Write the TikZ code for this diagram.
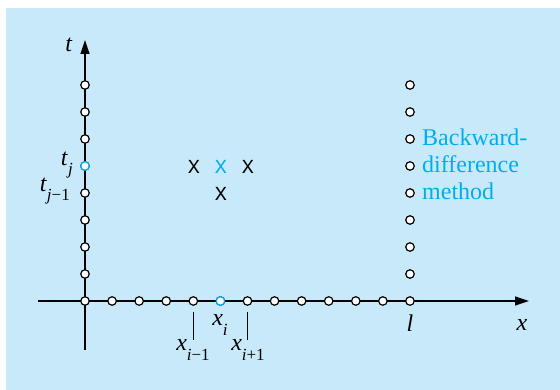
\documentclass[tikz,border=0pt]{standalone}
\usepackage{fontspec}
\newfontfamily\serifrm{Liberation Serif}
\newfontfamily\marksf{TeX Gyre Heros}
\usetikzlibrary{arrows.meta}
\definecolor{bgblue}{RGB}{199,233,250}
\definecolor{accent}{RGB}{0,174,239}
\newcommand\lbl[2]{\textit{#1}\raisebox{-0.38em}{\fontsize{17}{17}\selectfont #2}}
\begin{document}
\begin{tikzpicture}[x=1pt,y=-1pt,
  dot/.style={circle,draw,fill=white,line width=1.2pt,inner sep=0pt,minimum size=8.5pt},
  axis/.style={line width=1.2pt,-{Triangle[length=14pt,width=9pt]}},
  tick/.style={line width=1.1pt},
  lab/.style={font=\serifrm\fontsize{24}{27}\selectfont,inner sep=0pt},
  mk/.style={font=\marksf\fontsize{18}{18}\selectfont,inner sep=0pt}]
\useasboundingbox (0,0) rectangle (560,390);
\fill[bgblue] (6,8) rectangle (560,390);
% axes
\coordinate (xs) at (38,301);
\coordinate (xe) at (529,301);
\coordinate (ts) at (85,350);
\coordinate (te) at (85,40);
\draw[axis] (xs) -- (xe);
\draw[axis] (ts) -- (te);
% grid points
\foreach \i in {0,...,12} \node[dot] (p\i) at ({85+27.08*\i},301) {};
\foreach \j in {1,...,8} \node[dot] (q\j) at (85,{301-27*\j}) {};
\foreach \j in {1,...,8} \node[dot] (r\j) at (410,{301-27*\j}) {};
\node[dot,draw=accent] at (p5) {};
\node[dot,draw=accent] at (q5) {};
% ticks
\coordinate (ka) at (193.6,312);
\coordinate (kb) at (193.6,340);
\coordinate (kc) at (247.6,312);
\coordinate (kd) at (247.6,340);
\draw[tick] (ka) -- (kb);
\draw[tick] (kc) -- (kd);
% axis labels
\node[lab] (lt) at (69,45) {\textit{t}};
\node[lab] (lx) at (522,325) {\textit{x}};
\node[lab] (ll) at (410,323) {\textit{l}};
\node[lab,anchor=east] (ltj) at (73,165) {\lbl{t}{\textit{j}}};
\node[lab,anchor=east] (ltj1) at (70,191) {\lbl{t}{\textit{j}−1}};
\node[lab] (lxi) at (220,325) {\lbl{x}{\textit{i}}};
\node[lab] (lxa) at (193,350) {\lbl{x}{\textit{i}−1}};
\node[lab] (lxb) at (248,350) {\lbl{x}{\textit{i}+1}};
% stencil marks
\node[mk] (m1) at (194,167) {X};
\node[mk,text=accent] (m2) at (221,167) {X};
\node[mk] (m3) at (248,167) {X};
\node[mk] (m4) at (221,194) {X};
% method text
\node[lab,text=accent,anchor=base west] (w1) at (422,146) {Backward-};
\node[lab,text=accent,anchor=base west] (w2) at (422,173) {difference};
\node[lab,text=accent,anchor=base west] (w3) at (422,200) {method};
\end{tikzpicture}
\end{document}
